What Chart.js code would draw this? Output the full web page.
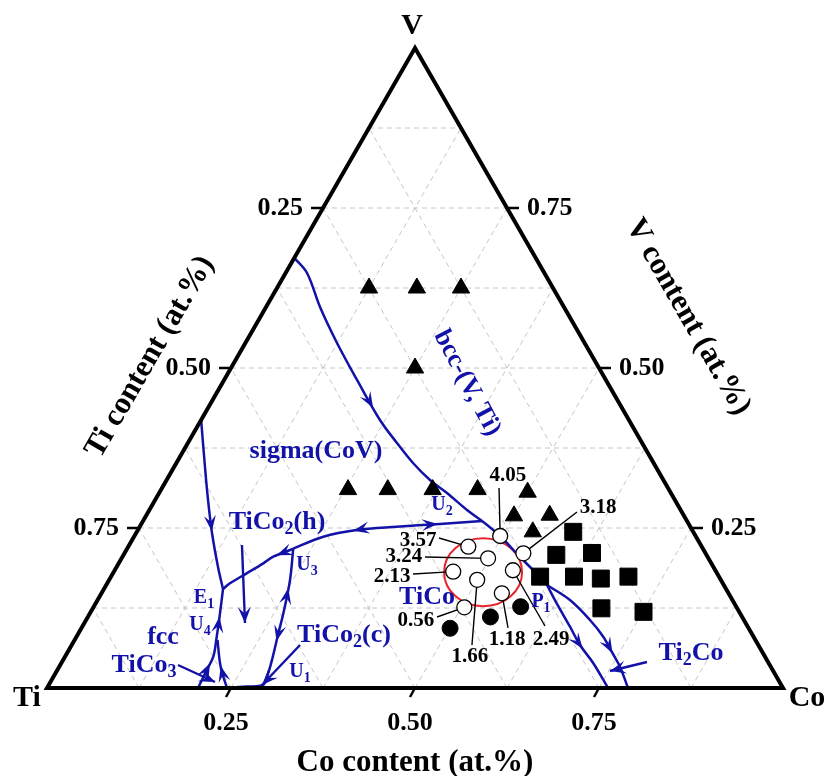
<!DOCTYPE html>
<html>
<head>
<meta charset="utf-8">
<script src="https://cdn.jsdelivr.net/npm/chart.js@4.4.0/dist/chart.umd.min.js"></script>
<style>
  body { margin: 0; background: #fff; }
</style>
</head>
<body>
<canvas id="ternary" width="827" height="776"></canvas>
<script>
// all compositions are [Co, V] mole fractions, Ti = 1 - Co - V
const gridSteps = [0.125, 0.25, 0.375, 0.5, 0.625, 0.75, 0.875];
const tickValues = [0.25, 0.5, 0.75];

const bccAlloys = [[0.125,0.625],[0.19,0.625],[0.25,0.625],[0.25,0.5],
  [0.254,0.31],[0.308,0.31],[0.369,0.31],[0.43,0.31],
  [0.5,0.306],[0.5,0.269],[0.548,0.27],[0.538,0.244]];
const ti2coAlloys = [[0.593,0.244],[0.588,0.208],[0.635,0.211],[0.583,0.174],
  [0.629,0.174],[0.667,0.171],[0.703,0.174],[0.691,0.1245],[0.751,0.119]];
const ticoAlloys = [[0.501,0.0933],[0.547,0.111],[0.580,0.127]];

const sampleNames  = ['4.05','3.18','3.57','3.24','2.13','2.49','1.66','1.18','0.56'];
const samplePoints = [[0.497,0.2375],[0.542,0.2104],[0.462,0.2208],[0.498,0.2026],
  [0.461,0.1818],[0.541,0.184],[0.500,0.169],[0.544,0.148],[0.504,0.126]];
const sampleLeader = [[0.4579,0.3125],[0.5826,0.275],[0.4154,0.2344],[0.4113,0.2047],
  [0.4082,0.1781],[0.6282,0.0969],[0.5438,0.0672],[0.5795,0.0938],[0.4745,0.1109]];
const sampleLabelAt = [[0.4607,0.3313],[0.6080,0.2813],[0.3893,0.2297],[0.3827,0.2047],
  [0.3821,0.1734],[0.6473,0.075],[0.5505,0.0484],[0.5875,0.075],[0.4490,0.1047]];
const sampleCluster = [0.502, 0.181];

// liquidus valleys
const bccSigma = [[0,0.672],[0.0291,0.6484],[0.0733,0.5953],[0.1245,0.5391],[0.1806,0.4813],
  [0.2430,0.4188],[0.2841,0.3828],[0.3215,0.3516],[0.3579,0.3250],[0.3911,0.3047],
  [0.4316,0.2781],[0.4606,0.2609],[0.4967,0.2375],[0.5403,0.2047],[0.5681,0.1844],[0.5989,0.1609]];
const tico2hValley = [[0.4606,0.2609],[0.4058,0.2563],[0.3491,0.2520],[0.2974,0.2469],
  [0.2572,0.2364],[0.2224,0.2156],[0.2049,0.2052],[0.1965,0.1948],[0.1817,0.1792],
  [0.1668,0.1636],[0.1618,0.1547]];
const sigmaFcc = [[0,0.4188],[0.0420,0.3453],[0.0719,0.2938],[0.1031,0.2422],
  [0.1378,0.1891],[0.1618,0.1547]];
const e1Left = [[0.2052,0],[0.2030,0.0281],[0.2015,0.0489],[0.1905,0.0802],
  [0.1767,0.1167],[0.1618,0.1547]];
const e1Right = [[0.2446,0],[0.2307,0.0177],[0.2158,0.0386],[0.1942,0.075]];
const u3Valley = [[0.226,0.217],[0.2458,0.1688],[0.2628,0.1167],[0.2716,0.0855],
  [0.2838,0.0438],[0.2903,0.0172],[0.2911,0.0047],[0.2706,0.0023],[0.2482,0.0008]];
const p1Left = [[0.5989,0.1609],[0.6264,0.1323],[0.6627,0.0958],[0.6906,0.0672],
  [0.7230,0.0386],[0.7622,0]];
const p1Right = [[0.5989,0.1609],[0.6418,0.1375],[0.6846,0.1063],[0.7157,0.0802],
  [0.7389,0.0567],[0.7618,0.0333],[0.7894,0]];

// arrows on valleys: [valley, position along points, direction]
const valleyArrows = [[bccSigma,4.7,1],[tico2hValley,1.05,-1],[tico2hValley,3.1,1],
  [tico2hValley,5.8,1],[sigmaFcc,2.95,1],[e1Left,1.5,1],[e1Left,3.85,1],
  [e1Right,1.8,1],[u3Valley,1.25,-1],[u3Valley,3.3,1],[p1Left,3.2,1],[p1Right,4.1,1]];

// label pointers: [from, to]
const pointers = [[[0.1532,0.2234],[0.2182,0.1016]],[[0.1600,0.0359],[0.2236,0.0094]],
  [[0.3102,0.0672],[0.2898,0.0047]],[[0.7949,0.0406],[0.7516,0.0266]]];

const phaseLabels = ['bcc-(V, Ti)','sigma(CoV)','TiCo_2(h)','TiCo_2(c)','TiCo_3','fcc','TiCo','Ti_2Co'];
const phaseLabelAt = [[0.3324,0.4766],[0.1804,0.3703],[0.1828,0.2594],[0.3621,0.0828],
  [0.1139,0.0359],[0.1178,0.0797],[0.4452,0.1422],[0.8477,0.0547]];
const pointNames = ['E_1','U_4','U_3','U_1','U_2','P_1'];
const pointNameAt = [[0.1430,0.1406],[0.1587,0.0984],[0.2572,0.1922],[0.3313,0.025],
  [0.3937,0.2859],[0.6040,0.1344]];

const BLUE = '#1212a8';
const SERIF = '"Liberation Serif", "DejaVu Serif", serif';

function tern(p) { return { x: p[0] + p[1] / 2, y: p[1] }; }

function splitSub(str) {
  const parts = [];
  let buf = '';
  for (let i = 0; i < str.length; i++) {
    if (str[i] === '_') {
      if (buf) parts.push([buf, false]);
      parts.push([str[i + 1], true]);
      buf = '';
      i++;
    } else buf += str[i];
  }
  if (buf) parts.push([buf, false]);
  return parts;
}

function drawRich(ctx, str, x, y, size, color, angle) {
  const parts = splitSub(str);
  const sub = Math.round(size * 0.68);
  ctx.save();
  ctx.translate(x, y);
  if (angle) ctx.rotate(angle);
  ctx.fillStyle = color;
  ctx.textBaseline = 'middle';
  ctx.textAlign = 'left';
  let total = 0;
  const widths = parts.map(([t, s]) => {
    ctx.font = `bold ${s ? sub : size}px ${SERIF}`;
    const w = ctx.measureText(t).width;
    total += w;
    return w;
  });
  let cx = -total / 2;
  parts.forEach(([t, s], i) => {
    ctx.font = `bold ${s ? sub : size}px ${SERIF}`;
    ctx.fillText(t, cx, s ? size * 0.3 : 0);
    cx += widths[i];
  });
  ctx.restore();
}

function arrowHead(ctx, tip, dx, dy, len, half) {
  const d = Math.hypot(dx, dy) || 1;
  const ux = dx / d, uy = dy / d;
  const nx = -uy, ny = ux;
  ctx.beginPath();
  ctx.moveTo(tip[0], tip[1]);
  ctx.lineTo(tip[0] - ux * len + nx * half, tip[1] - uy * len + ny * half);
  ctx.lineTo(tip[0] - ux * len * 0.6, tip[1] - uy * len * 0.6);
  ctx.lineTo(tip[0] - ux * len - nx * half, tip[1] - uy * len - ny * half);
  ctx.closePath();
  ctx.fill();
}

const ternaryDecor = {
  id: 'ternaryDecor',
  beforeDatasetsDraw(chart) {
    const ctx = chart.ctx;
    const P = (c, v) => [chart.scales.x.getPixelForValue(c + v / 2), chart.scales.y.getPixelForValue(v)];
    const seg = (a, b) => { ctx.beginPath(); ctx.moveTo(a[0], a[1]); ctx.lineTo(b[0], b[1]); ctx.stroke(); };
    ctx.save();
    ctx.strokeStyle = '#c6c6c6';
    ctx.lineWidth = 1;
    ctx.setLineDash([5, 4]);
    gridSteps.forEach(f => {
      seg(P(0, f), P(1 - f, f));
      seg(P(f, 0), P(f, 1 - f));
      seg(P(1 - f, 0), P(0, 1 - f));
    });
    ctx.setLineDash([]);
    // sample cluster ellipse
    const e = P(sampleCluster[0], sampleCluster[1]);
    ctx.strokeStyle = '#e8232b';
    ctx.lineWidth = 2;
    ctx.beginPath();
    ctx.ellipse(e[0], e[1], 39, 34, 0, 0, Math.PI * 2);
    ctx.stroke();
    // leader lines
    ctx.strokeStyle = '#000';
    ctx.lineWidth = 1.4;
    samplePoints.forEach((p, i) => seg(P(sampleLeader[i][0], sampleLeader[i][1]), P(p[0], p[1])));
    ctx.restore();
  },
  afterDatasetsDraw(chart) {
    const ctx = chart.ctx;
    const P = (c, v) => [chart.scales.x.getPixelForValue(c + v / 2), chart.scales.y.getPixelForValue(v)];
    const seg = (a, b) => { ctx.beginPath(); ctx.moveTo(a[0], a[1]); ctx.lineTo(b[0], b[1]); ctx.stroke(); };
    ctx.save();
    // arrows on valleys
    ctx.fillStyle = BLUE;
    valleyArrows.forEach(([pts, at, dir]) => {
      const i = Math.min(Math.floor(at), pts.length - 2);
      const t = at - i;
      const a = P(pts[i][0], pts[i][1]), b = P(pts[i + 1][0], pts[i + 1][1]);
      const tip = [a[0] + (b[0] - a[0]) * t, a[1] + (b[1] - a[1]) * t];
      arrowHead(ctx, tip, (b[0] - a[0]) * dir, (b[1] - a[1]) * dir, 16, 6);
    });
    // pointer arrows
    ctx.strokeStyle = BLUE;
    ctx.lineWidth = 2.4;
    pointers.forEach(([from, to]) => {
      const a = P(from[0], from[1]), b = P(to[0], to[1]);
      seg(a, b);
      arrowHead(ctx, b, b[0] - a[0], b[1] - a[1], 16, 6.5);
    });
    // frame
    const ti = P(0, 0), co = P(1, 0), v = P(0, 1);
    ctx.strokeStyle = '#000';
    ctx.lineWidth = 4;
    ctx.lineJoin = 'miter';
    ctx.beginPath();
    ctx.moveTo(ti[0], ti[1]); ctx.lineTo(co[0], co[1]); ctx.lineTo(v[0], v[1]); ctx.closePath();
    ctx.stroke();
    // ticks and tick labels
    ctx.lineWidth = 2.5;
    ctx.fillStyle = '#000';
    ctx.font = `bold 26px ${SERIF}`;
    ctx.textBaseline = 'middle';
    tickValues.forEach(t => {
      const l = P(0, t);
      seg(l, [l[0] - 12, l[1]]);
      ctx.textAlign = 'right';
      ctx.fillText((1 - t).toFixed(2), l[0] - 20, l[1]);
      const r = P(1 - t, t);
      seg(r, [r[0] + 12, r[1]]);
      ctx.textAlign = 'left';
      ctx.fillText(t.toFixed(2), r[0] + 20, r[1]);
      const b = P(t, 0);
      seg(b, [b[0] - 5, b[1] + 9]);
      ctx.textAlign = 'center';
      ctx.fillText(t.toFixed(2), b[0] - 5, b[1] + 35);
    });
    // corner labels
    ctx.font = `bold 30px ${SERIF}`;
    ctx.textAlign = 'center';
    ctx.fillText('V', v[0] - 3, v[1] - 22);
    ctx.fillText('Ti', ti[0] - 20, ti[1] + 10);
    ctx.fillText('Co', co[0] + 24, co[1] + 10);
    // axis titles
    drawRich(ctx, 'Co content (at.%)', (ti[0] + co[0]) / 2, ti[1] + 75, 31, '#000', 0);
    drawRich(ctx, 'Ti content (at.%)', 150, 357, 31, '#000', -Math.PI / 3);
    drawRich(ctx, 'V content (at.%)', 688, 317, 31, '#000', Math.PI / 3);
    // phase labels
    phaseLabels.forEach((s, i) => {
      const p = P(phaseLabelAt[i][0], phaseLabelAt[i][1]);
      drawRich(ctx, s, p[0], p[1], 26, BLUE, i === 0 ? 62 * Math.PI / 180 : 0);
    });
    pointNames.forEach((s, i) => {
      const p = P(pointNameAt[i][0], pointNameAt[i][1]);
      drawRich(ctx, s, p[0], p[1], 20, BLUE, 0);
    });
    sampleNames.forEach((s, i) => {
      const p = P(sampleLabelAt[i][0], sampleLabelAt[i][1]);
      drawRich(ctx, s, p[0], p[1], 21, '#000', 0);
    });
    ctx.restore();
  }
};

function valleySet(pts) {
  return {
    data: pts.map(tern), showLine: true, borderColor: BLUE, borderWidth: 2.5,
    pointRadius: 0, tension: 0.35, fill: false
  };
}

new Chart(document.getElementById('ternary'), {
  type: 'scatter',
  data: {
    datasets: [
      { label: 'bcc', data: bccAlloys.map(tern), pointStyle: 'triangle', pointRadius: 10,
        backgroundColor: '#000', borderColor: '#000', borderWidth: 1 },
      { label: 'Ti2Co', data: ti2coAlloys.map(tern), pointStyle: 'rect', pointRadius: 12,
        backgroundColor: '#000', borderColor: '#000', borderWidth: 1 },
      { label: 'TiCo', data: ticoAlloys.map(tern), pointStyle: 'circle', pointRadius: 8,
        backgroundColor: '#000', borderColor: '#000', borderWidth: 1 },
      { label: 'samples', data: samplePoints.map(tern), pointStyle: 'circle', pointRadius: 7.5,
        backgroundColor: '#fff', borderColor: '#000', borderWidth: 1.3 },
      valleySet(bccSigma), valleySet(tico2hValley), valleySet(sigmaFcc), valleySet(e1Left),
      valleySet(e1Right), valleySet(u3Valley), valleySet(p1Left), valleySet(p1Right)
    ]
  },
  options: {
    responsive: false,
    animation: false,
    events: [],
    clip: false,
    layout: { padding: { left: 47, right: 44, top: 48, bottom: 88 } },
    plugins: { legend: { display: false }, tooltip: { enabled: false } },
    scales: {
      x: { type: 'linear', min: 0, max: 1, display: false },
      y: { type: 'linear', min: 0, max: 1, display: false }
    }
  },
  plugins: [ternaryDecor]
});
</script>
</body>
</html>
